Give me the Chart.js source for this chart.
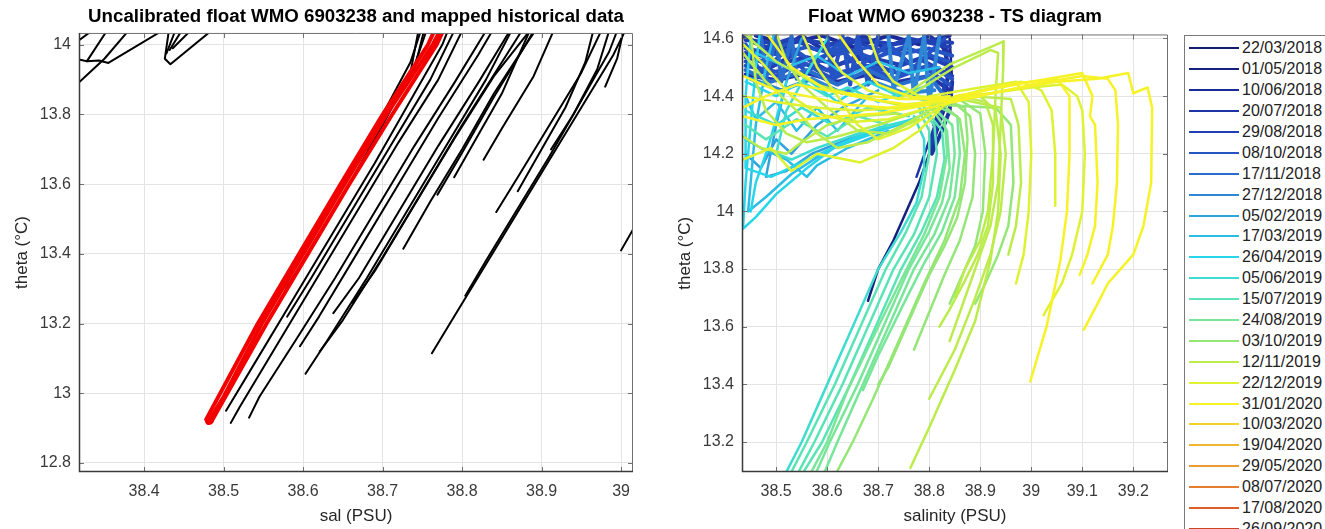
<!DOCTYPE html>
<html>
<head>
<meta charset="utf-8">
<script src="https://cdn.jsdelivr.net/npm/chart.js@4.4.1/dist/chart.umd.min.js"></script>
<style>
  html, body { margin: 0; padding: 0; background: #fff; }
  body { width: 1325px; height: 529px; position: relative; overflow: hidden; font-family: 'Liberation Sans', Arial, sans-serif; }
  #left { position: absolute; left: 0; top: 0; }
  #right { position: absolute; left: 660px; top: 0; }
  #legend { position: absolute; left: 1184px; top: 35px; width: 170px; height: 520px; border: 1px solid #7a7a7a; box-sizing: border-box; padding-top: 2px; background: #fff; }
  .row { height: 20.9px; display: flex; align-items: center; }
  .swatch { width: 50px; height: 2px; margin-left: 4px; margin-right: 3px; }
  .lbl { font-size: 16px; color: #222; }
</style>
</head>
<body>
<canvas id="left" width="660" height="529"></canvas>
<canvas id="right" width="520" height="529"></canvas>
<div id="legend"></div>
<script>
// ---- left panel: [salinity, theta] ----
const salTicks = [38.4, 38.5, 38.6, 38.7, 38.8, 38.9, 39.0];
const thetaTicksLeft = [12.8, 13.0, 13.2, 13.4, 13.6, 13.8, 14.0];

// uncalibrated float profiles (red band)
const floatRed = [
  [[38.480,12.915],[38.50,12.99],[38.548,13.20],[38.600,13.40],[38.652,13.60],[38.705,13.80],[38.763,14.00],[38.772,14.04]],
  [[38.485,12.92],[38.554,13.20],[38.606,13.40],[38.658,13.60],[38.712,13.80],[38.768,14.00],[38.776,14.04]],
  [[38.478,12.925],[38.543,13.20],[38.595,13.40],[38.647,13.60],[38.700,13.80],[38.757,14.00],[38.765,14.04]]
];
const floatRedEnd = [[38.482,12.922]];

// mapped historical data (black)
const histNearFloat = [
  [[38.578,13.30],[38.60,13.38],[38.65,13.57],[38.70,13.77],[38.74,13.94],[38.755,14.04]],
  [[38.503,12.95],[38.54,13.09],[38.59,13.28],[38.64,13.47],[38.69,13.66],[38.74,13.86],[38.775,14.0],[38.782,14.04]],
  [[38.509,12.915],[38.52,12.96],[38.57,13.15],[38.62,13.34],[38.67,13.53],[38.72,13.72],[38.77,13.9],[38.80,14.04]],
  [[38.532,12.93],[38.545,12.99],[38.59,13.15],[38.64,13.33],[38.69,13.52],[38.74,13.71],[38.79,13.89],[38.83,14.04]],
  [[38.58,13.22],[38.61,13.33],[38.66,13.52],[38.71,13.71],[38.76,13.90],[38.79,14.04]],
  [[38.65,13.60],[38.70,13.80],[38.735,13.95],[38.748,14.04]],
  [[38.70,13.78],[38.72,13.86],[38.74,13.93],[38.752,14.04]],
  [[38.68,13.70],[38.71,13.82],[38.735,13.92],[38.745,14.04]]
];
const histMiddle = [
  [[38.596,13.135],[38.62,13.22],[38.67,13.41],[38.72,13.60],[38.77,13.79],[38.82,13.97],[38.838,14.04]],
  [[38.603,13.056],[38.63,13.15],[38.68,13.33],[38.73,13.52],[38.78,13.71],[38.83,13.9],[38.862,14.04]],
  [[38.621,13.12],[38.65,13.21],[38.70,13.39],[38.75,13.58],[38.80,13.77],[38.85,13.95],[38.875,14.04]],
  [[38.638,13.23],[38.67,13.33],[38.72,13.52],[38.77,13.71],[38.82,13.89],[38.86,14.04]],
  [[38.662,13.26],[38.69,13.35],[38.74,13.54],[38.79,13.73],[38.84,13.91],[38.885,14.04]],
  [[38.726,13.415],[38.76,13.55],[38.80,13.70],[38.84,13.86],[38.88,14.0],[38.89,14.04]],
  [[38.769,13.57],[38.80,13.69],[38.84,13.85],[38.88,14.0],[38.892,14.04]],
  [[38.79,13.62],[38.81,13.70],[38.85,13.86],[38.885,14.04]]
];
const histRight = [
  [[38.762,13.115],[38.79,13.22],[38.83,13.37],[38.87,13.52],[38.91,13.67],[38.95,13.82],[38.99,13.97],[39.005,14.04]],
  [[38.804,13.28],[38.83,13.38],[38.87,13.53],[38.91,13.68],[38.95,13.84],[38.985,13.98],[38.995,14.04]],
  [[38.843,13.52],[38.87,13.62],[38.91,13.77],[38.95,13.92],[38.975,14.04]],
  [[38.827,13.67],[38.85,13.76],[38.89,13.91],[38.915,14.04]],
  [[38.87,13.58],[38.90,13.70],[38.93,13.82],[38.955,13.95],[38.965,14.04]],
  [[38.912,13.70],[38.94,13.80],[38.97,13.93],[38.985,14.04]],
  [[38.98,13.88],[38.995,13.96],[39.003,14.04]],
  [[39.0,13.41],[39.02,13.49]]
];
const histTopLeft = [
  [[38.317,13.89],[38.35,13.96],[38.38,14.04]],
  [[38.317,13.958],[38.328,13.953],[38.343,13.955],[38.355,13.948],[38.418,14.034],[38.42,14.04]],
  [[38.328,13.953],[38.353,14.04]],
  [[38.317,14.011],[38.334,14.04]],
  [[38.431,14.04],[38.426,13.96],[38.433,13.944],[38.481,14.034],[38.483,14.04]],
  [[38.439,14.04],[38.428,13.975]],
  [[38.447,14.04],[38.432,13.985]],
  [[38.458,14.04],[38.436,13.99]]
];

// ---- right panel ----
const salTicksRight = [38.5, 38.6, 38.7, 38.8, 38.9, 39.0, 39.1, 39.2];
const thetaTicksRight = [13.2, 13.4, 13.6, 13.8, 14.0, 14.2, 14.4, 14.6];

const cycleDates = ['22/03/2018','01/05/2018','10/06/2018','20/07/2018','29/08/2018','08/10/2018',
  '17/11/2018','27/12/2018','05/02/2019','17/03/2019','26/04/2019','05/06/2019','15/07/2019',
  '24/08/2019','03/10/2019','12/11/2019','22/12/2019','31/01/2020','10/03/2020','19/04/2020',
  '29/05/2020','08/07/2020','17/08/2020','26/09/2020'];

const blueCycles = [4, 5, 4, 5, 6, 7, 3, 2, 5, 3, 4, 5, 3, 4, 5, 6, 5, 7, 3, 4];
const blueProfiles = [
  [[38.435,14.61],[38.48,14.57],[38.53,14.60],[38.58,14.56],[38.64,14.60],[38.70,14.56],[38.76,14.60],[38.84,14.57]],
  [[38.435,14.58],[38.47,14.54],[38.52,14.58],[38.57,14.52],[38.63,14.57],[38.69,14.53],[38.75,14.57],[38.84,14.52]],
  [[38.44,14.55],[38.49,14.50],[38.54,14.55],[38.60,14.49],[38.66,14.54],[38.72,14.49],[38.78,14.53],[38.845,14.47]],
  [[38.44,14.52],[38.50,14.47],[38.55,14.52],[38.61,14.46],[38.67,14.51],[38.73,14.46],[38.79,14.50],[38.84,14.44]],
  [[38.44,14.49],[38.49,14.45],[38.56,14.49],[38.62,14.44],[38.68,14.49],[38.74,14.44],[38.80,14.47],[38.83,14.40]],
  [[38.45,14.46],[38.51,14.42],[38.57,14.46],[38.63,14.41],[38.69,14.45],[38.75,14.41],[38.81,14.42]],
  [[38.44,14.60],[38.50,14.55],[38.55,14.61],[38.61,14.54],[38.67,14.61],[38.73,14.55],[38.80,14.61],[38.84,14.55]],
  [[38.46,14.61],[38.52,14.58],[38.59,14.61],[38.65,14.57],[38.72,14.61],[38.78,14.58],[38.84,14.61]],
  [[38.44,14.58],[38.47,14.48],[38.52,14.56],[38.56,14.48],[38.62,14.58],[38.66,14.50],[38.72,14.58],[38.77,14.50],[38.83,14.60]],
  [[38.82,14.61],[38.84,14.50],[38.83,14.40],[38.81,14.30]],
  [[38.44,14.535],[38.50,14.51],[38.56,14.535],[38.62,14.51],[38.68,14.535],[38.74,14.51],[38.80,14.535],[38.845,14.5]],
  [[38.44,14.505],[38.50,14.485],[38.56,14.51],[38.62,14.48],[38.68,14.505],[38.74,14.48],[38.80,14.505],[38.845,14.46]],
  [[38.44,14.475],[38.50,14.455],[38.56,14.48],[38.62,14.45],[38.68,14.475],[38.74,14.45],[38.80,14.47],[38.84,14.42]],
  [[38.44,14.595],[38.49,14.585],[38.55,14.595],[38.61,14.58],[38.67,14.595],[38.73,14.58],[38.79,14.595],[38.845,14.585]],
  [[38.44,14.565],[38.50,14.545],[38.56,14.57],[38.62,14.545],[38.68,14.57],[38.74,14.545],[38.80,14.565],[38.845,14.54]],
  [[38.47,14.61],[38.48,14.46],[38.50,14.61],[38.51,14.45],[38.53,14.61],[38.54,14.46]],
  [[38.60,14.61],[38.61,14.45],[38.63,14.61],[38.645,14.44],[38.66,14.61],[38.68,14.44],[38.70,14.61]],
  [[38.72,14.61],[38.73,14.42],[38.76,14.61],[38.77,14.40],[38.79,14.61],[38.80,14.38],[38.82,14.61]],
  [[38.845,14.45],[38.84,14.35],[38.825,14.28],[38.805,14.2],[38.815,14.3],[38.83,14.4]],
  [[38.83,14.45],[38.825,14.35],[38.81,14.27],[38.80,14.22]]
];
const streakCycles = [1, 3];
const streakProfiles = [
  [[38.84,14.6],[38.845,14.45],[38.835,14.38],[38.82,14.3],[38.80,14.2],[38.78,14.1],[38.755,14.0],[38.73,13.9],[38.70,13.8],[38.68,13.69]],
  [[38.83,14.6],[38.835,14.45],[38.815,14.32],[38.795,14.22],[38.775,14.12]]
];
const cyanCycles = [10, 9, 10, 8, 11, 9, 10, 9, 11, 12, 9, 8, 10, 11];
const cyanProfiles = [
  [[38.47,14.65],[38.46,14.5],[38.45,14.3],[38.44,14.1],[38.435,13.94],[38.46,13.98],[38.50,14.06],[38.56,14.15],[38.62,14.23],[38.70,14.29],[38.77,14.32]],
  [[38.50,14.65],[38.48,14.5],[38.46,14.3],[38.445,14.0],[38.48,14.05],[38.53,14.13],[38.60,14.21],[38.68,14.27],[38.76,14.31]],
  [[38.45,14.6],[38.44,14.4],[38.44,14.15],[38.49,14.12],[38.55,14.17],[38.61,14.22],[38.69,14.27],[38.78,14.33]],
  [[38.55,14.6],[38.52,14.45],[38.50,14.3],[38.48,14.12],[38.52,14.14],[38.57,14.2],[38.64,14.25],[38.73,14.30]],
  [[38.60,14.6],[38.56,14.48],[38.52,14.35],[38.50,14.2],[38.53,14.18],[38.58,14.22],[38.66,14.27],[38.75,14.31]],
  [[38.44,14.25],[38.47,14.22],[38.52,14.18],[38.56,14.12],[38.58,14.16],[38.64,14.22],[38.72,14.28]],
  [[38.44,14.45],[38.50,14.40],[38.56,14.46],[38.62,14.38],[38.68,14.45],[38.74,14.40],[38.80,14.44]],
  [[38.46,14.55],[38.52,14.50],[38.58,14.54],[38.64,14.47],[38.70,14.52],[38.76,14.48],[38.82,14.5]],
  [[38.44,14.35],[38.50,14.30],[38.55,14.36],[38.61,14.30],[38.68,14.36],[38.76,14.33]],
  [[38.44,14.30],[38.48,14.25],[38.54,14.32],[38.60,14.26],[38.66,14.33],[38.72,14.30]],
  [[38.44,14.40],[38.46,14.32],[38.50,14.38],[38.54,14.28],[38.58,14.36],[38.62,14.28],[38.68,14.40]],
  [[38.44,14.20],[38.47,14.15],[38.50,14.25],[38.53,14.20],[38.58,14.30],[38.63,14.36],[38.70,14.42]],
  [[38.45,14.0],[38.46,14.1],[38.48,14.20],[38.50,14.32],[38.52,14.45]],
  [[38.55,14.45],[38.60,14.40],[38.64,14.43],[38.70,14.38],[38.76,14.42],[38.80,14.38]]
];
const turqCycles = [12, 12, 11, 12, 13];
const turqProfiles = [
  [[38.78,14.36],[38.81,14.3],[38.815,14.2],[38.80,14.05],[38.77,13.92],[38.73,13.8],[38.68,13.6],[38.63,13.4],[38.575,13.2],[38.545,13.1]],
  [[38.78,14.35],[38.80,14.28],[38.80,14.2],[38.785,14.05],[38.755,13.93],[38.715,13.8],[38.665,13.6],[38.615,13.4],[38.56,13.2],[38.531,13.1]],
  [[38.77,14.33],[38.79,14.25],[38.79,14.15],[38.775,14.03],[38.745,13.93],[38.70,13.8],[38.65,13.6],[38.60,13.4],[38.55,13.2],[38.521,13.1]],
  [[38.79,14.36],[38.825,14.28],[38.83,14.18],[38.815,14.05],[38.785,13.93],[38.745,13.8],[38.695,13.6],[38.645,13.4],[38.59,13.2],[38.555,13.1]],
  [[38.80,14.37],[38.835,14.28],[38.84,14.15],[38.825,14.03],[38.80,13.93],[38.76,13.8],[38.71,13.6],[38.66,13.4],[38.605,13.2],[38.58,13.1]]
];
const greenCycles = [13, 13, 14, 14, 14, 15, 15, 14, 14, 15, 13, 15];
const greenProfiles = [
  [[38.72,14.42],[38.80,14.38],[38.83,14.32],[38.835,14.2],[38.82,14.05],[38.79,13.92],[38.75,13.78],[38.70,13.6],[38.64,13.38],[38.60,13.2],[38.57,13.1]],
  [[38.80,14.37],[38.845,14.3],[38.85,14.2],[38.84,14.05],[38.81,13.92],[38.77,13.8],[38.72,13.6],[38.67,13.4],[38.62,13.2],[38.596,13.1]],
  [[38.82,14.38],[38.86,14.32],[38.87,14.2],[38.86,14.05],[38.83,13.9],[38.79,13.75],[38.74,13.55],[38.69,13.35],[38.65,13.2],[38.62,13.1]],
  [[38.84,14.39],[38.88,14.33],[38.89,14.2],[38.885,14.05],[38.86,13.9],[38.83,13.78],[38.80,13.65],[38.77,13.52]],
  [[38.85,14.4],[38.90,14.34],[38.91,14.2],[38.905,14.0],[38.89,13.88],[38.87,13.8],[38.84,13.68]],
  [[38.74,14.39],[38.84,14.51],[38.92,14.57],[38.946,14.59],[38.945,14.5],[38.94,14.3],[38.935,14.1],[38.92,13.95],[38.90,13.85],[38.88,13.75],[38.86,13.65],[38.84,13.55]],
  [[38.76,14.40],[38.85,14.5],[38.92,14.56],[38.935,14.55],[38.93,14.4],[38.925,14.2],[38.915,14.0],[38.90,13.9],[38.87,13.8],[38.85,13.7]],
  [[38.82,14.37],[38.93,14.36],[38.96,14.3],[38.965,14.1],[38.955,13.95],[38.935,13.85],[38.91,13.75],[38.89,13.68]],
  [[38.84,14.38],[38.87,14.36],[38.875,14.25],[38.87,14.1],[38.855,13.98],[38.83,13.88],[38.80,13.78],[38.76,13.62],[38.72,13.46],[38.70,13.4]],
  [[38.86,14.40],[38.91,14.38],[38.925,14.3],[38.925,14.1],[38.915,13.95],[38.895,13.85],[38.87,13.76],[38.84,13.66],[38.82,13.6]],
  [[38.80,14.38],[38.855,14.33],[38.86,14.2],[38.85,14.05],[38.825,13.93],[38.79,13.82],[38.75,13.68],[38.70,13.5],[38.67,13.38]],
  [[38.88,14.40],[38.96,14.39],[38.975,14.3],[38.98,14.1],[38.97,13.95],[38.955,13.85]]
];
const yellowCycles = [17, 17, 16, 16, 17, 15, 15, 16, 17];
const yellowProfiles = [
  [[38.83,14.38],[38.95,14.42],[39.05,14.45],[39.13,14.46],[39.19,14.48],[39.20,14.41],[39.228,14.43],[39.237,14.36],[39.235,14.1],[39.22,13.95],[39.20,13.85],[39.15,13.75],[39.13,13.68],[39.103,13.59]],
  [[38.80,14.36],[38.9,14.4],[39.0,14.44],[39.1,14.47],[39.15,14.46],[39.165,14.42],[39.17,14.3],[39.168,14.1],[39.16,13.95],[39.15,13.85],[39.12,13.75]],
  [[38.82,14.39],[38.92,14.41],[39.0,14.43],[39.06,14.44],[39.09,14.40],[39.10,14.35],[39.105,14.2],[39.10,14.0],[39.08,13.85],[39.06,13.75],[39.024,13.64]],
  [[38.80,14.37],[38.9,14.42],[38.98,14.45],[39.02,14.42],[39.04,14.35],[39.047,14.2],[39.047,14.02]],
  [[38.83,14.38],[38.95,14.44],[39.05,14.46],[39.075,14.40],[39.075,14.2],[39.07,14.0],[39.057,13.83],[39.03,13.6],[38.998,13.41]],
  [[38.83,14.38],[38.9,14.4],[38.93,14.35],[38.94,14.2],[38.935,14.0],[38.92,13.83],[38.89,13.62],[38.85,13.45],[38.80,13.25],[38.763,13.11]],
  [[38.86,14.39],[38.94,14.36],[38.95,14.2],[38.94,14.0],[38.92,13.85],[38.89,13.70],[38.85,13.52],[38.80,13.35]],
  [[38.80,14.40],[38.9,14.43],[38.97,14.45],[38.995,14.38],[39.0,14.2],[38.995,14.0],[38.985,13.85],[38.97,13.75]],
  [[38.85,14.40],[39.0,14.45],[39.1,14.48],[39.12,14.40],[39.115,14.33],[39.125,14.30],[39.13,14.1],[39.125,13.95],[39.11,13.85],[39.095,13.78]]
];
const tangleCycles = [16, 15, 17, 16, 17, 15, 16, 17, 15, 16, 17, 15, 16, 15, 17, 16];
const tangleProfiles = [
  [[38.435,14.18],[38.49,14.22],[38.53,14.14],[38.58,14.2],[38.665,14.17],[38.73,14.22],[38.78,14.28],[38.83,14.37],[38.9,14.42]],
  [[38.435,14.62],[38.50,14.52],[38.58,14.44],[38.66,14.40],[38.74,14.37],[38.82,14.38]],
  [[38.48,14.62],[38.53,14.50],[38.60,14.42],[38.68,14.39],[38.76,14.37],[38.83,14.39]],
  [[38.435,14.40],[38.50,14.38],[38.58,14.36],[38.66,14.35],[38.74,14.36],[38.83,14.38]],
  [[38.435,14.33],[38.50,14.30],[38.56,14.32],[38.63,14.33],[38.70,14.34],[38.80,14.37]],
  [[38.435,14.55],[38.48,14.45],[38.54,14.35],[38.58,14.27],[38.62,14.22],[38.68,14.24],[38.75,14.30],[38.82,14.37]],
  [[38.55,14.62],[38.58,14.50],[38.62,14.40],[38.66,14.30],[38.70,14.25],[38.76,14.29],[38.82,14.36]],
  [[38.62,14.62],[38.66,14.52],[38.70,14.44],[38.76,14.40],[38.83,14.38]],
  [[38.45,14.62],[38.46,14.45],[38.48,14.35],[38.52,14.27],[38.56,14.24],[38.62,14.26],[38.70,14.30],[38.80,14.36]],
  [[38.68,14.62],[38.70,14.52],[38.73,14.45],[38.78,14.40],[38.85,14.39]],
  [[38.435,14.47],[38.50,14.42],[38.56,14.40],[38.64,14.37],[38.72,14.36],[38.8,14.38],[38.9,14.40]],
  [[38.435,14.26],[38.47,14.22],[38.52,14.20],[38.55,14.24],[38.60,14.30],[38.66,14.33],[38.74,14.34]],
  [[38.435,14.58],[38.47,14.52],[38.50,14.46],[38.53,14.40],[38.58,14.34],[38.65,14.31],[38.72,14.32],[38.80,14.36]],
  [[38.50,14.62],[38.52,14.52],[38.55,14.44],[38.60,14.36],[38.66,14.28],[38.72,14.27],[38.78,14.32]],
  [[38.435,14.36],[38.48,14.40],[38.54,14.44],[38.60,14.42],[38.68,14.40],[38.76,14.39],[38.84,14.40]],
  [[38.58,14.62],[38.60,14.55],[38.63,14.48],[38.68,14.42],[38.74,14.39],[38.82,14.39]]
];

// colormap used for the float cycles (legend order)
const cycleColors = ['#141c6e','#16217e','#1a2a96','#1d33a6','#2140b4','#2553c4','#2a6ccc','#2e86d4',
  '#2fa3dc','#2cbde6','#28d6ea','#3edccf','#5ae4b4','#78e698','#94e676','#bcec4c','#def232',
  '#f6f226','#f4d22e','#f0b632','#ec9a32','#e67c30','#dc5e2a','#cc4424'];

const FONT = "'Liberation Sans', Arial, sans-serif";
const toXY = pts => pts.map(([x, y]) => ({ x, y }));

function lineSet(pts, color, width, order) {
  return {
    data: toXY(pts), showLine: true, borderColor: color, backgroundColor: color,
    borderWidth: width, pointRadius: 0, tension: 0, clip: 0, order: order,
    borderJoinStyle: 'round', borderCapStyle: 'round'
  };
}

function axisOpts(ticks, min, max, title, titlePad, size, isX, labelPad) {
  return {
    type: 'linear', min: min, max: max,
    afterBuildTicks: s => { s.ticks = ticks.map(v => ({ value: v })); },
    afterFit: s => { if (isX) s.height = size; else s.width = size; },
    ticks: { callback: v => String(+Number(v).toFixed(1)), font: { family: FONT, size: 16 }, color: '#3a3a3a',
      padding: labelPad, maxRotation: 0, autoSkip: false },
    grid: { color: '#e4e4e4', drawTicks: false, lineWidth: 1 },
    border: { display: false },
    title: { display: true, text: title, font: { family: FONT, size: 17 }, color: '#262626', padding: titlePad }
  };
}

// matlab-like box with inward tick marks
const boxPlugin = {
  id: 'matlabBox',
  afterDatasetsDraw(chart) {
    const { ctx, chartArea: a, scales: { x, y } } = chart;
    ctx.save();
    ctx.strokeStyle = '#707070';
    ctx.lineWidth = 1;
    ctx.beginPath();
    ctx.moveTo(a.left, a.top + 0.5); ctx.lineTo(a.right - 0.5, a.top + 0.5); ctx.lineTo(a.right - 0.5, a.bottom);
    ctx.stroke();
    ctx.beginPath();
    x.ticks.forEach(t => {
      const px = Math.round(x.getPixelForValue(t.value)) + 0.5;
      ctx.moveTo(px, a.bottom); ctx.lineTo(px, a.bottom - 5);
      ctx.moveTo(px, a.top); ctx.lineTo(px, a.top + 5);
    });
    y.ticks.forEach(t => {
      const py = Math.round(y.getPixelForValue(t.value)) + 0.5;
      ctx.moveTo(a.left, py); ctx.lineTo(a.left + 5, py);
      ctx.moveTo(a.right, py); ctx.lineTo(a.right - 5, py);
    });
    ctx.stroke();
    ctx.strokeStyle = '#3a3a3a';
    ctx.lineWidth = 1.5;
    ctx.beginPath();
    ctx.moveTo(a.left + 0.5, a.top); ctx.lineTo(a.left + 0.5, a.bottom - 0.5); ctx.lineTo(a.right, a.bottom - 0.5);
    ctx.stroke();
    ctx.restore();
  }
};

function baseOptions(titleText, titlePad, rightPad, xAxis, yAxis) {
  return {
    responsive: false, animation: false, events: [],
    layout: { padding: { left: 0, right: rightPad, top: 0, bottom: 0 } },
    plugins: {
      legend: { display: false }, tooltip: { enabled: false },
      title: { display: true, text: titleText, fullSize: false, color: '#000',
        font: { family: FONT, size: 18.7, weight: 'bold' }, padding: titlePad }
    },
    scales: { x: xAxis, y: yAxis }
  };
}

// left chart
const leftSets = [];
histTopLeft.concat(histNearFloat, histMiddle, histRight).forEach(p => leftSets.push(lineSet(p, '#000', 2, 0)));
floatRed.forEach(p => leftSets.push(lineSet(p, '#f20000', 4, -1)));
leftSets.push({ data: toXY(floatRedEnd), pointRadius: 4.5, pointBackgroundColor: '#f20000', pointBorderWidth: 0, clip: 0, order: -2 });

new Chart(document.getElementById('left'), {
  type: 'scatter',
  data: { datasets: leftSets },
  options: baseOptions('Uncalibrated float WMO 6903238 and mapped historical data', { top: 5.5, bottom: 5 }, 27,
    axisOpts(salTicks, 38.318, 39.015, 'sal (PSU)', { top: 0, bottom: 2 }, 57, true, 10),
    axisOpts(thetaTicksLeft, 12.774, 14.034, 'theta (°C)', { top: 12, bottom: 0 }, 79, false, 8)),
  plugins: [boxPlugin]
});

// right chart
const rightSets = [];
function addGroup(profiles, cycles, width) {
  profiles.forEach((p, i) => rightSets.push(lineSet(p, cycleColors[cycles[i]], width, -cycles[i])));
}
addGroup(blueProfiles, blueCycles, 4);
addGroup(streakProfiles, streakCycles, 2.5);
addGroup(cyanProfiles, cyanCycles, 2.5);
addGroup(turqProfiles, turqCycles, 2.5);
addGroup(greenProfiles, greenCycles, 2.5);
addGroup(yellowProfiles, yellowCycles, 2.5);
addGroup(tangleProfiles, tangleCycles, 2.5);

new Chart(document.getElementById('right'), {
  type: 'scatter',
  data: { datasets: rightSets },
  options: baseOptions('Float WMO 6903238 - TS diagram', { top: 5.5, bottom: 6.5 }, 12,
    axisOpts(salTicksRight, 38.433, 39.268, 'salinity (PSU)', { top: 0, bottom: 2 }, 57, true, 10),
    axisOpts(thetaTicksRight, 13.096, 14.614, 'theta (°C)', { top: 15, bottom: 0 }, 82, false, 8)),
  plugins: [boxPlugin]
});

// legend of cycle dates
const legendEl = document.getElementById('legend');
cycleDates.forEach((d, i) => {
  const row = document.createElement('div');
  row.className = 'row';
  const sw = document.createElement('div');
  sw.className = 'swatch';
  sw.style.background = cycleColors[i];
  const lbl = document.createElement('span');
  lbl.className = 'lbl';
  lbl.textContent = d;
  row.appendChild(sw);
  row.appendChild(lbl);
  legendEl.appendChild(row);
});
</script>
</body>
</html>
